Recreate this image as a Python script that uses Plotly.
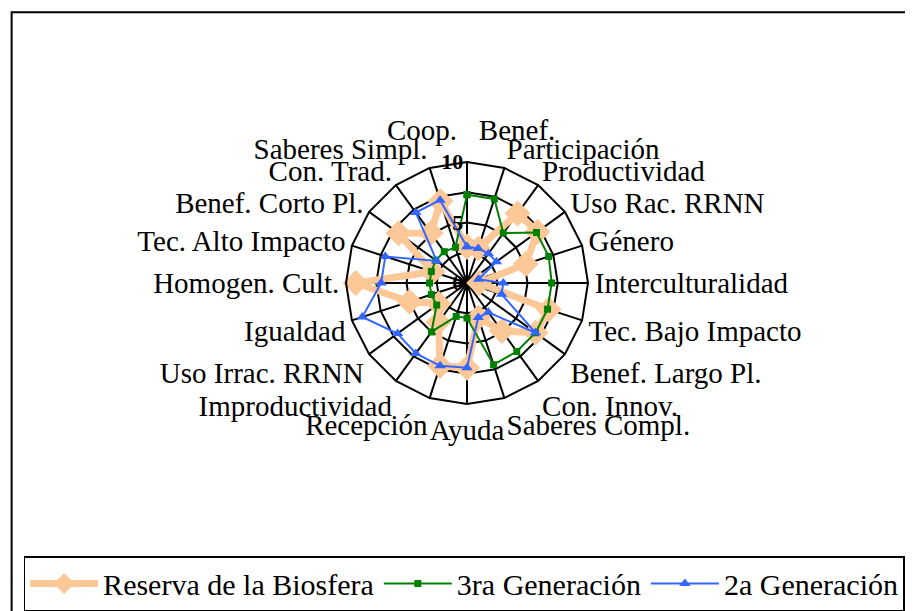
"""Radar chart: Reserva de la Biosfera vs generaciones."""

import plotly.graph_objects as go

categories = [
    "Coop. Benef.", "Participación", "Productividad", "Uso Rac. RRNN",
    "Género", "Interculturalidad", "Tec. Bajo Impacto", "Benef. Largo Pl.",
    "Con. Innov.", "Saberes Compl.", "Ayuda", "Recepción", "Improductividad",
    "Uso Irrac. RRNN", "Igualdad", "Homogen. Cult.", "Tec. Alto Impacto",
    "Benef. Corto Pl.", "Con. Trad.", "Saberes Simpl.",
]

reserva = [3.0, 3.0, 7.1, 7.2, 5.1, 1.0, 7.1, 7.0, 4.9, 3.0,
           7.0, 7.2, 4.0, 2.9, 5.0, 9.2, 3.0, 7.0, 5.1, 7.1]
tercera = [7.3, 7.3, 5.1, 7.1, 7.1, 7.0, 7.0, 7.0, 7.0, 7.1,
           2.9, 2.9, 5.0, 3.1, 3.1, 3.1, 3.1, 3.2, 3.2, 3.1]
segunda = [3.0, 3.0, 3.0, 3.0, 1.0, 3.0, 3.0, 7.0, 3.0, 3.0,
           7.0, 7.2, 7.2, 7.1, 9.1, 7.1, 7.1, 3.1, 7.2, 7.2]

radial_ticks = [0, 2.5, 5, 7.5, 10]
radial_text = ["0", "", "5", "", "10"]

FONT = "Liberation Serif, Times New Roman, serif"


def closed(values):
    return values + values[:1]


# the top category label sits higher than the others in the original, so it
# is written as an annotation and left blank on the axis
angular_text = [""] + categories[1:]

fig = go.Figure()
fig.add_trace(go.Scatterpolar(
    r=closed(reserva), theta=closed(categories), name="Reserva de la Biosfera",
    mode="lines+markers",
    line=dict(color="#FCC898", width=7),
    marker=dict(symbol="diamond", size=20, color="#FCC898"),
))
fig.add_trace(go.Scatterpolar(
    r=closed(tercera), theta=closed(categories), name="3ra Generación",
    mode="lines+markers",
    line=dict(color="#008000", width=2),
    marker=dict(symbol="square", size=7, color="#008000"),
))
fig.add_trace(go.Scatterpolar(
    r=closed(segunda), theta=closed(categories), name="2a Generación",
    mode="lines+markers",
    line=dict(color="#3366FF", width=2),
    marker=dict(symbol="triangle-up", size=10, color="#3366FF"),
))

# the page adds an 8px body margin, so the figure is a bit smaller than the window
fig.update_layout(
    width=905,
    height=603,
    margin=dict(l=0, r=0, t=0, b=0),
    paper_bgcolor="white",
    plot_bgcolor="white",
    font=dict(family=FONT, color="black"),
    showlegend=True,
    polar=dict(
        domain=dict(x=[0.3735, 0.6409], y=[0.3433, 0.7446]),
        bgcolor="white",
        gridshape="linear",
        angularaxis=dict(
            direction="clockwise",
            rotation=90,
            categoryorder="array",
            categoryarray=categories,
            tickmode="array",
            tickvals=categories,
            ticktext=angular_text,
            showline=True,
            linecolor="black",
            linewidth=2,
            gridcolor="black",
            gridwidth=1.5,
            ticks="",
            tickfont=dict(family=FONT, size=29, color="black"),
        ),
        radialaxis=dict(
            range=[0, 10],
            angle=90,
            side="counterclockwise",
            tickvals=radial_ticks,
            ticktext=radial_text,
            tickangle=90,
            showline=False,
            ticks="",
            gridcolor="black",
            gridwidth=1.5,
            tickfont=dict(family=FONT, size=22, color="black", weight="bold"),
        ),
    ),
    legend=dict(
        orientation="h",
        x=0.504,
        xanchor="center",
        y=0.0,
        yanchor="bottom",
        bordercolor="black",
        borderwidth=1.5,
        itemwidth=68,
        font=dict(family=FONT, size=30, color="black"),
    ),
    annotations=[
        dict(text="Coop.\u00a0\u00a0\u00a0Benef.", xref="paper", yref="paper",
             x=0.5116, y=0.798, xanchor="center", yanchor="middle",
             showarrow=False, font=dict(family=FONT, size=29, color="black")),
    ],
    shapes=[
        dict(type="rect", xref="paper", yref="paper",
             x0=0.004, x1=0.997, y0=-0.02, y1=0.993,
             line=dict(color="black", width=2)),
    ],
)

fig.write_html("out.html")
